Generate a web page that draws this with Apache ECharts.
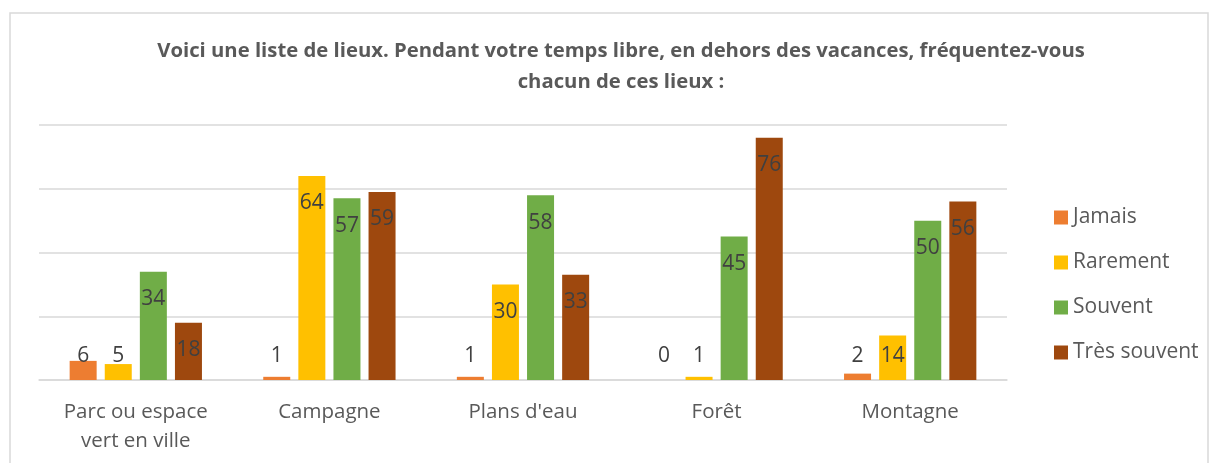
<!DOCTYPE html>
<html>
  <head>
    <meta charset="utf-8" />
    <title>Lieux fréquentés</title>
    <script src="https://cdn.jsdelivr.net/npm/echarts@6/dist/echarts.min.js"></script>
    <style>
      html, body { margin: 0; padding: 0; background: #fff; }
      #main { width: 1209px; height: 463px; }
    </style>
  </head>
  <body>
    <div id="main"></div>
    <script>
      // données
      var categories = ['Parc ou espace\nvert en ville', 'Campagne', "Plans d'eau", 'Forêt', 'Montagne'];
      var seriesNames = ['Jamais', 'Rarement', 'Souvent', 'Très souvent'];
      var jamais = [6, 1, 1, 0, 2];
      var rarement = [5, 64, 30, 1, 14];
      var souvent = [34, 57, 58, 45, 50];
      var tresSouvent = [18, 59, 33, 76, 56];
      var colors = ['#ED7D31', '#FFC000', '#70AD47', '#9E480E'];

      var font = '"Open Sans", "Noto Sans", sans-serif';

      // étiquette dans le haut de la barre, ou au-dessus de la ligne de base si la barre est courte
      function makeData(values) {
        return values.map(function (v) {
          if (v >= 16) {
            return { value: v, label: { position: 'insideTop', distance: 17 } };
          }
          return { value: v, label: { position: 'insideBottom', distance: 13 } };
        });
      }

      var allValues = [jamais, rarement, souvent, tresSouvent];
      var series = allValues.map(function (vals, i) {
        return {
          name: seriesNames[i],
          type: 'bar',
          barWidth: 27,
          barGap: '30%',
          itemStyle: { color: colors[i] },
          label: {
            show: true,
            color: '#404040',
            fontFamily: font,
            fontSize: 21
          },
          data: makeData(vals)
        };
      });

      var chart = echarts.init(document.getElementById('main'));
      chart.setOption({
        animation: false,
        title: {
          text: 'Voici une liste de lieux. Pendant votre temps libre, en dehors des vacances, fréquentez-vous\nchacun de ces lieux :',
          left: 616,
          textAlign: 'center',
          top: 31,
          textStyle: {
            fontFamily: font,
            fontSize: 20.3,
            fontWeight: 'bold',
            color: '#595959',
            lineHeight: 31
          }
        },
        legend: {
          orient: 'vertical',
          left: 1049,
          top: 202,
          itemWidth: 14,
          itemHeight: 14,
          itemGap: 24,
          icon: 'rect',
          textStyle: {
            fontFamily: font,
            fontSize: 21,
            color: '#595959',
            padding: [0, 0, 0, 0]
          },
          data: seriesNames
        },
        grid: {
          left: 39,
          right: 1209 - 1007,
          top: 125,
          bottom: 463 - 380,
          containLabel: false
        },
        xAxis: {
          type: 'category',
          data: categories,
          axisLine: { show: true, lineStyle: { color: '#D9D9D9', width: 1.5 } },
          axisTick: { show: false },
          axisLabel: {
            margin: 18,
            fontFamily: font,
            fontSize: 20.5,
            lineHeight: 29,
            color: '#595959',
            interval: 0
          }
        },
        yAxis: {
          type: 'value',
          min: 0,
          max: 80,
          interval: 20,
          axisLabel: { show: false },
          axisLine: { show: false },
          axisTick: { show: false },
          splitLine: { lineStyle: { color: '#D9D9D9', width: 1.5 } }
        },
        graphic: [{
          type: 'rect',
          shape: { x: 10, y: 13, width: 1198, height: 470 },
          style: { fill: null, stroke: '#D9D9D9', lineWidth: 1.5 },
          silent: true
        }],
        series: series
      });
    </script>
  </body>
</html>
